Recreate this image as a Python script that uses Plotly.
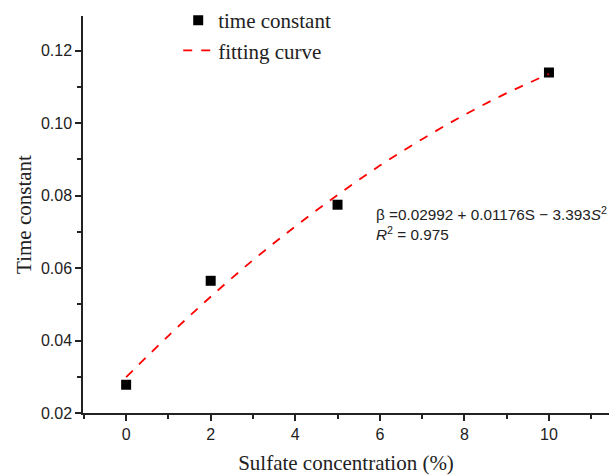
import plotly.graph_objects as go

# measured data
conc = [0, 2, 5, 10]
time_const = [0.0278, 0.0565, 0.0775, 0.114]

# fitting curve
fit_x = [0, 1, 2, 3, 4, 5, 6, 7, 8, 9, 10]
fit_y = [0.0299, 0.0413, 0.0521, 0.0622, 0.0715, 0.0802, 0.0883, 0.0956, 0.1023, 0.1083, 0.1136]

x_ticks = [0, 2, 4, 6, 8, 10]
y_ticks = [0.02, 0.04, 0.06, 0.08, 0.10, 0.12]

fig = go.Figure()
fig.add_trace(go.Scatter(
    x=conc, y=time_const, mode="markers", name="time constant",
    marker=dict(symbol="square", size=10, color="black"),
))
fig.add_trace(go.Scatter(
    x=fit_x, y=fit_y, mode="lines", name="fitting curve",
    line=dict(color="red", width=1.8, dash="dash", shape="spline"),
))

fig.add_annotation(
    x=5.87, y=0.0783, xref="x", yref="y", xanchor="left", yanchor="top",
    text="β =0.02992 + 0.01176S − 3.393<i>S</i><sup>2</sup><br><i>R</i><sup>2</sup> = 0.975",
    showarrow=False, align="left",
    font=dict(family="Liberation Sans, Arial", size=15.3, color="#222"),
)

axis_common = dict(
    showline=True, linecolor="#222", linewidth=1.5, ticks="outside",
    ticklen=6, tickwidth=1.5, tickcolor="#222", showgrid=False, zeroline=False,
    tickfont=dict(family="Liberation Sans, Arial", size=16, color="#222"),
    mirror=False,
)

fig.update_xaxes(
    **axis_common, range=[-1.02, 11.42], tickvals=x_ticks,
    ticktext=[str(v) for v in x_ticks],
    minor=dict(ticks="outside", ticklen=4, tickwidth=1.5, tickcolor="#222", dtick=1, tick0=0),
    title=dict(text="Sulfate concentration (%)", standoff=14,
               font=dict(family="Liberation Serif, Times New Roman", size=21, color="#222")),
)
fig.update_yaxes(
    **axis_common, range=[0.02, 0.1296], tickvals=y_ticks,
    ticktext=["0.02", "0.04", "0.06", "0.08", "0.10", "0.12"],
    minor=dict(ticks="outside", ticklen=4, tickwidth=1.5, tickcolor="#222", dtick=0.01, tick0=0.02),
    title=dict(text="Time constant", standoff=4,
               font=dict(family="Liberation Serif, Times New Roman", size=21, color="#222")),
)

fig.update_layout(
    width=609, height=475,
    margin=dict(l=83, r=0, t=15, b=62),
    paper_bgcolor="white", plot_bgcolor="white",
    showlegend=True,
    legend=dict(
        x=0.181, y=1.04, xanchor="left", yanchor="top",
        bgcolor="rgba(0,0,0,0)", borderwidth=0,
        font=dict(family="Liberation Serif, Times New Roman", size=21, color="#222"),
        tracegroupgap=0,
    ),
)

fig.write_html("out.html", config={"displayModeBar": False},
               post_script="document.body.style.margin='0';")
